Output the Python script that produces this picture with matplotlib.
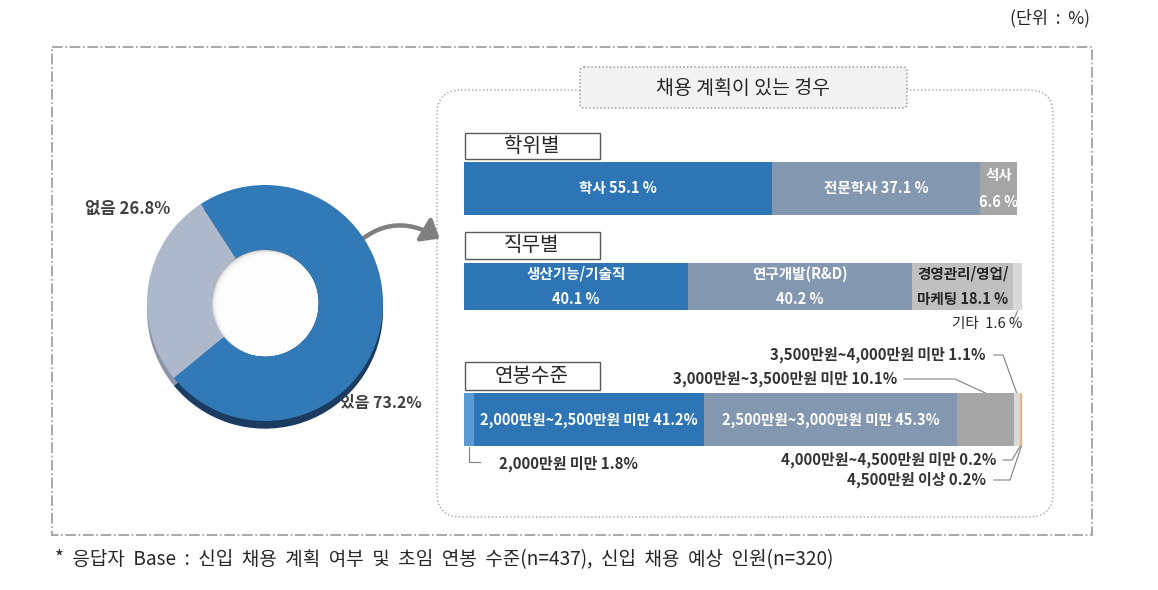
import matplotlib
matplotlib.use('Agg')
import matplotlib.pyplot as plt
from matplotlib.patches import Rectangle, FancyBboxPatch, FancyArrowPatch, Circle
from matplotlib.lines import Line2D
import numpy as np

plt.rcParams['font.family'] = ['Noto Sans CJK KR', 'DejaVu Sans']

# ---------------- data ----------------
donut_labels = ['없음', '있음']
donut_values = [26.8, 73.2]

degree_labels = ['학사', '전문학사', '석사']
degree_values = [55.1, 37.1, 6.6]

job_labels = ['생산기능/기술직', '연구개발(R&D)', '경영관리/영업/마케팅', '기타']
job_values = [40.1, 40.2, 18.1, 1.6]

salary_labels = ['2,000만원 미만', '2,000만원~2,500만원 미만', '2,500만원~3,000만원 미만',
                 '3,000만원~3,500만원 미만', '3,500만원~4,000만원 미만',
                 '4,000만원~4,500만원 미만', '4,500만원 이상']
salary_values = [1.8, 41.2, 45.3, 10.1, 1.1, 0.2, 0.2]

unit_text = '(단위  :  %)'
panel_title = '채용 계획이 있는 경우'
footnote = '*  응답자  Base  :  신입  채용  계획  여부  및  초임  연봉  수준(n=437),  신입  채용  예상  인원(n=320)'

# ---------------- style ----------------
BLUE = '#2E75B6'
STEEL = '#8497B0'
GRAY = '#A5A5A5'
LGRAY = '#C0C0C0'
VLGRAY = '#D9D9D9'
LBLUE = '#5B9BD5'
ORANGE = '#F4B183'
PINK = '#D9A7A7'
DARK = '#262626'
LEAD = '#808080'
FS = 10.5
WT = 'bold'

degree_colors = [BLUE, STEEL, GRAY]
job_colors = [BLUE, STEEL, LGRAY, VLGRAY]
salary_colors = [LBLUE, BLUE, STEEL, GRAY, VLGRAY, ORANGE, PINK]
donut_colors = ['#ADB9CA', '#3279B7']
donut_shadow = ['#8C96A6', '#1B3B60']

W, H = 1158, 590
fig = plt.figure(figsize=(W / 100, H / 100), dpi=100)
bg = fig.add_axes([0, 0, 1, 1])
bg.set_xlim(0, W)
bg.set_ylim(H, 0)
bg.axis('off')


def px_axes(x0, y0, x1, y1):
    return fig.add_axes([x0 / W, 1 - y1 / H, (x1 - x0) / W, (y1 - y0) / H])


def to_bg(ax, x, y):
    d = ax.transData.transform((x, y))
    return bg.transData.inverted().transform(d)


# ---------------- frames ----------------
bg.add_patch(Rectangle((52, 47), 1040, 488, fill=False, ec='#9A9A9A',
                       lw=1.2, ls='-.'))
bg.add_patch(FancyBboxPatch((437, 90), 616, 427,
                            boxstyle='round,pad=0,rounding_size=24',
                            fc='white', ec='#A0A0A0', lw=1, ls=':'))
bg.add_patch(FancyBboxPatch((580, 67), 327, 41,
                            boxstyle='round,pad=0,rounding_size=4',
                            fc='#F2F2F2', ec='#8C8C8C', lw=1, ls=':', zorder=3))
bg.text(743, 88, panel_title, ha='center', va='center', fontsize=14,
        color=DARK, zorder=4)

bg.text(1090, 18, unit_text, ha='right', va='center', fontsize=12.5, color=DARK)
bg.text(55, 560, footnote, ha='left', va='center', fontsize=13.7, color=DARK)

# section title boxes
for title, (y0, y1) in zip(['학위별', '직무별', '연봉수준'],
                           [(133, 159), (232, 259), (362, 390)]):
    bg.add_patch(Rectangle((465, y0), 135, y1 - y0, fc='white', ec='#595959', lw=1))
    bg.text(532, (y0 + y1) / 2, title, ha='center', va='center', fontsize=14.5,
            color=DARK)

# ---------------- donut ----------------
cx, cy, R = 265, 303, 118
pax = px_axes(cx - 1.15 * R, cy - 1.15 * R, cx + 1.15 * R, cy + 1.15 * R)
pax.pie(donut_values, colors=donut_shadow, startangle=123, counterclock=True,
        radius=1, center=(0, -0.065),
        wedgeprops=dict(width=0.55, linewidth=0))
pax.pie(donut_values, colors=donut_colors, startangle=123, counterclock=True,
        radius=1, wedgeprops=dict(width=0.55, linewidth=0))
hole = Circle((0, 0), 0.45, fc='#A8A8A8', ec='none', zorder=5)
pax.add_patch(hole)
for k in range(12):
    s = 0.006 * k
    c = Circle((s, -s * 0.8), 0.45 - 0.002 * k, fc='white', ec='none',
               alpha=0.42, zorder=6)
    pax.add_patch(c)
    c.set_clip_path(hole)
pax.set_xlim(-1.15, 1.15)
pax.set_ylim(-1.15, 1.15)
pax.axis('off')

bg.text(85, 209, f'{donut_labels[0]} {donut_values[0]}%', ha='left', va='center',
        fontsize=12, fontweight='bold', color='#404040')
bg.text(340, 403, f'{donut_labels[1]} {donut_values[1]}%', ha='left', va='center',
        fontsize=11.5, fontweight='bold', color='#404040')

# curved arrow
bg.add_artist(FancyArrowPatch((347, 253), (442, 240),
                              connectionstyle='arc3,rad=-0.42',
                              arrowstyle='-|>,head_length=0.55,head_width=0.45',
                              mutation_scale=18, lw=3.2, color='#7F7F7F'))


# ---------------- bars ----------------
def stacked(ax, values, colors):
    vals = np.array(values)
    lefts = np.concatenate([[0], np.cumsum(vals)[:-1]])
    ax.barh([0], vals, left=lefts, color=colors, height=1.0, linewidth=0)
    ax.set_xlim(0, vals.sum())
    ax.set_ylim(-0.5, 0.5)
    ax.axis('off')
    return lefts + vals / 2


# degree
ax1 = px_axes(464, 162, 1017, 215)
c1 = stacked(ax1, degree_values, degree_colors)
ax1.text(c1[0], 0, f'{degree_labels[0]} {degree_values[0]} %', ha='center',
         va='center', color='white', fontsize=FS, fontweight=WT)
ax1.text(c1[1], 0, f'{degree_labels[1]} {degree_values[1]} %', ha='center',
         va='center', color='white', fontsize=FS, fontweight=WT)
ax1.text(c1[2], 0.25, degree_labels[2], ha='center', va='center',
         color='white', fontsize=FS, fontweight=WT)
ax1.text(c1[2], -0.25, f'{degree_values[2]} %', ha='center', va='center',
         color='white', fontsize=FS, fontweight=WT)

# job
ax2 = px_axes(464, 263, 1022, 310)
c2 = stacked(ax2, job_values, job_colors)
ax2.text(c2[0], 0.27, job_labels[0], ha='center', va='center', color='white',
         fontsize=FS, fontweight=WT)
ax2.text(c2[0], -0.27, f'{job_values[0]} %', ha='center', va='center',
         color='white', fontsize=FS, fontweight=WT)
ax2.text(c2[1], 0.27, job_labels[1], ha='center', va='center', color='white',
         fontsize=FS, fontweight=WT)
ax2.text(c2[1], -0.27, f'{job_values[1]} %', ha='center', va='center',
         color='white', fontsize=FS, fontweight=WT)
ax2.text(c2[2], 0.27, '경영관리/영업/', ha='center', va='center', color=DARK,
         fontsize=FS, fontweight=WT)
ax2.text(c2[2], -0.27, f'마케팅 {job_values[2]} %', ha='center', va='center',
         color=DARK, fontsize=FS, fontweight=WT)
p = to_bg(ax2, c2[3], -0.5)
bg.add_line(Line2D([p[0], p[0] - 3], [p[1] + 1, p[1] + 8], color=LEAD, lw=0.8))
bg.text(1022, 324, f'{job_labels[3]}  {job_values[3]} %', ha='right', va='center',
        color=DARK, fontsize=FS)

# salary
ax3 = px_axes(464, 393, 1022, 446)
c3 = stacked(ax3, salary_values, salary_colors)
ax3.text(c3[1], 0, f'{salary_labels[1]} {salary_values[1]}%', ha='center',
         va='center', color='white', fontsize=FS, fontweight='bold')
ax3.text(c3[2], 0, f'{salary_labels[2]} {salary_values[2]}%', ha='center',
         va='center', color='white', fontsize=FS, fontweight='bold')


def leader(idx, top, text_xy, ha, path_x):
    px, py = to_bg(ax3, c3[idx], 0.5 if top else -0.5)
    tx, ty = text_xy
    xs = list(path_x) + [px]
    ys = [ty] * len(path_x) + [py]
    bg.add_line(Line2D(xs, ys, color=LEAD, lw=0.8))
    bg.text(tx, ty, f'{salary_labels[idx]} {salary_values[idx]}%', ha=ha,
            va='center', color='#333333', fontsize=FS + 0.3, fontweight='bold')


leader(4, True, (986, 355), 'right', [994, 1003])
leader(3, True, (897, 379), 'right', [904, 955])
leader(5, False, (996, 460), 'right', [1003, 1012])
leader(6, False, (986, 480), 'right', [994, 1010])

# 2,000만원 미만
p0 = to_bg(ax3, c3[0], -0.5)
bg.add_line(Line2D([p0[0], p0[0], p0[0] + 11], [p0[1] + 1, 462, 462],
                   color=LEAD, lw=0.8))
bg.text(499, 464, f'{salary_labels[0]} {salary_values[0]}%', ha='left',
        va='center', color='#333333', fontsize=FS + 0.3, fontweight='bold')

fig.savefig('out.png', dpi=100)
